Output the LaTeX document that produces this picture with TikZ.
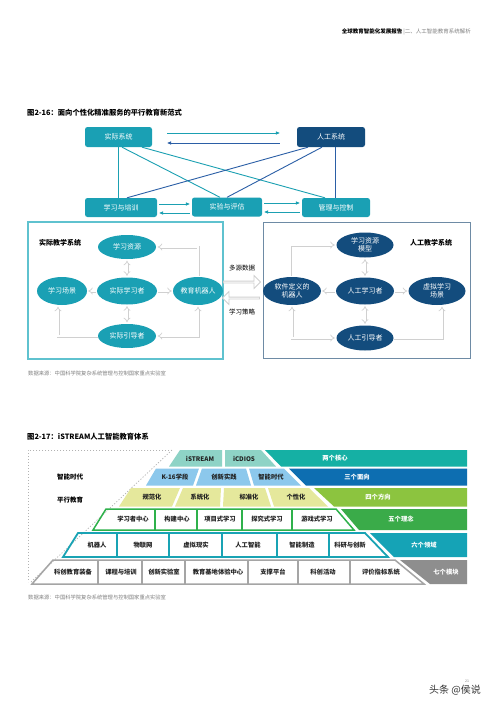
\documentclass[tikz,border=0pt]{standalone}
\usepackage{fontspec}
\setmainfont{Noto Sans CJK SC}
\usetikzlibrary{arrows.meta,shapes.arrows,shapes.geometric,calc}
\definecolor{tealbox}{HTML}{1AA0B4}
\definecolor{navybox}{HTML}{134C7D}
\definecolor{tline}{HTML}{1BA0B2}
\definecolor{bline}{HTML}{2B5FA6}
\definecolor{lframe}{HTML}{5FC2CF}
\definecolor{rframe}{HTML}{6E8BA5}
\definecolor{harrow}{HTML}{D0D0D0}
\definecolor{rowA}{HTML}{8ED3C6}
\definecolor{bandA}{HTML}{15B0A4}
\definecolor{rowB}{HTML}{8CC8EC}
\definecolor{bandB}{HTML}{0D6EB1}
\definecolor{rowC}{HTML}{E5E89C}
\definecolor{bandC}{HTML}{8CC43F}
\definecolor{rowD}{HTML}{2EB14B}
\definecolor{bandD}{HTML}{3AAB49}
\definecolor{rowE}{HTML}{19A3B4}
\definecolor{bandE}{HTML}{15A3B6}
\definecolor{rowF}{HTML}{A5A5A5}
\definecolor{bandF}{HTML}{8E8E8E}
\definecolor{celltext}{HTML}{222222}
\begin{document}
\begin{tikzpicture}[x=1pt,y=-1pt,
  box/.style={rounded corners=2.5pt, text=white, font=\fontsize{7}{8}\selectfont, inner sep=0pt, align=center},
  tbx/.style={box, fill=tealbox},
  nbx/.style={box, fill=navybox},
  ell/.style={ellipse, text=white, inner sep=0pt, align=center, font=\fontsize{7}{8.5}\selectfont},
  lell/.style={ell, fill=tealbox},
  rell/.style={ell, fill=navybox},
  tl/.style={draw=tline, line width=0.9pt},
  bl/.style={draw=bline, line width=0.9pt},
  tip/.style={-{Triangle[length=4pt,width=3.2pt]}},
  hol/.style={draw=harrow, double=white, double distance=1.6pt, line width=0.7pt},
  bigarr/.style={single arrow, draw=harrow, fill=white, line width=0.8pt, minimum height=37pt, minimum width=13pt, single arrow head extend=2.5pt, inner sep=0pt},
  ct/.style={font=\bfseries\fontsize{6.3}{7}\selectfont, text=celltext, inner sep=0pt},
  bt/.style={font=\bfseries\fontsize{6.3}{7}\selectfont, text=white, inner sep=0pt},
  dotl/.style={draw=gray!60, line width=0.7pt, dash pattern=on 1.2pt off 1.8pt}
]
\useasboundingbox[fill=white] (0,0) rectangle (500,707);

% header
\node[anchor=east, font=\fontsize{5.5}{6}\selectfont, inner sep=0pt] (hdr) at (471,32) {{\bfseries 全球教育智能化发展报告}\,{\color{gray}|二、人工智能教育系统解析}};

% ===== Figure 2-16 =====
\node[anchor=west, font=\bfseries\fontsize{7.3}{8}\selectfont, inner sep=0pt] (t1) at (27,113) {图2-16：面向个性化精准服务的平行教育新范式};

\node[tbx, minimum width=67pt, minimum height=20pt] (rs) at (118.5,137) {实际系统};
\node[nbx, minimum width=68pt, minimum height=20pt] (as) at (331,137) {人工系统};
\node[tbx, minimum width=72pt, minimum height=19pt] (lt) at (121,207.5) {学习与培训};
\node[tbx, minimum width=70pt, minimum height=19pt] (ea) at (227,207) {实验与评估};
\node[tbx, minimum width=68pt, minimum height=19pt] (mc) at (336,207.5) {管理与控制};

\draw[tl] (rs.south) -- (rs.south |- lt.north);
\draw[tl] ([xshift=3.5pt]rs.south) -- ([xshift=-7pt]ea.north);
\draw[tl] ([xshift=23.5pt]rs.south) -- ([xshift=-11pt]mc.north);
\draw[bl] ([xshift=-23pt]as.south) -- ([xshift=6pt]lt.north);
\draw[bl] ([xshift=-9pt]as.south) -- (ea.north);
\draw[bl] ([xshift=4pt]as.south) -- ([xshift=4pt]as.south |- mc.north);

\draw[tl, tip] ([xshift=15pt,yshift=4pt]rs.east) -- ([xshift=-17pt,yshift=4pt]as.west);
\draw[bl, tip] ([xshift=-17pt,yshift=-6pt]as.west) -- ([xshift=15pt,yshift=-6pt]rs.east);
\draw[tl, tip] ([xshift=2pt,yshift=3.5pt]lt.east) -- ([xshift=-2pt,yshift=3.5pt]lt.east -| ea.west);
\draw[tl, tip] ([xshift=-2pt,yshift=-5.5pt]lt.east -| ea.west) -- ([xshift=2pt,yshift=-5.5pt]lt.east);
\draw[tl, tip] ([xshift=2pt,yshift=4pt]ea.east) -- ([xshift=-2pt,yshift=4pt]ea.east -| mc.west);
\draw[tl, tip] ([xshift=-2pt,yshift=-5pt]ea.east -| mc.west) -- ([xshift=2pt,yshift=-5pt]ea.east);

% frames
\draw[draw=lframe, line width=1.2pt] (28,222) rectangle (223,359);
\draw[draw=rframe, line width=1pt] (263,222) rectangle (470,358);
\node[font=\bfseries\fontsize{7}{8}\selectfont, inner sep=0pt] (lsys) at (60,243) {实际教学系统};
\node[font=\bfseries\fontsize{7}{8}\selectfont, inner sep=0pt] (rsys) at (431,243) {人工教学系统};

% left ellipses
\node[lell, minimum width=58pt, minimum height=24pt] (lres) at (127,247) {学习资源};
\node[lell, minimum width=50pt, minimum height=28pt] (lsce) at (62,291) {学习场景};
\node[lell, minimum width=60pt, minimum height=27pt] (llea) at (127,291) {实际学习者};
\node[lell, minimum width=50pt, minimum height=28pt] (lrob) at (198,291) {教育机器人};
\node[lell, minimum width=58pt, minimum height=24pt] (lgui) at (127,336) {实际引导者};

\draw[hol, {Implies}-{Implies}] ([yshift=-1.5pt]lres.south) -- ([yshift=1.5pt]llea.north);
\draw[hol, {Implies}-{Implies}] ([yshift=-1.5pt]llea.south) -- ([yshift=1.5pt]lgui.north);
\draw[hol, -{Implies}] ([xshift=-1pt]llea.west) -- ([xshift=1pt]lsce.east);
\draw[hol, -{Implies}] ([xshift=1pt]llea.east) -- ([xshift=-1pt]lrob.west);
\draw[hol, -{Implies}] ([yshift=1pt]lrob.north) |- ([xshift=1.5pt]lres.east);
\draw[hol, -{Implies}] (lgui.west) -| ([xshift=-4pt,yshift=-1.5pt]lsce.south);
\draw[hol, {Implies}-{Implies}] ([yshift=-1.5pt]lrob.south) |- ([xshift=1.5pt]lgui.east);

% middle arrows
\node[font=\fontsize{6.5}{7}\selectfont, inner sep=0pt] (mdat) at (242,268) {多源数据};
\node[bigarr] (arrR) at (241.5,282) {};
\node[bigarr, shape border rotate=180] (arrL) at (241.5,298) {};
\node[font=\fontsize{6.5}{7}\selectfont, inner sep=0pt] (mstr) at (242,312) {学习策略};

% right ellipses
\node[rell, minimum width=57pt, minimum height=25pt] (rres) at (365,245) {学习资源\\模型};
\node[rell, minimum width=58pt, minimum height=28pt] (rrob) at (292,291) {软件定义的\\机器人};
\node[rell, minimum width=58pt, minimum height=27pt] (rlea) at (365,291) {人工学习者};
\node[rell, minimum width=57pt, minimum height=28pt] (rsce) at (437,291) {虚拟学习\\场景};
\node[rell, minimum width=57pt, minimum height=25pt] (rgui) at (365,338) {人工引导者};

\draw[hol, {Implies}-{Implies}] ([yshift=-1.5pt]rres.south) -- ([yshift=1.5pt]rlea.north);
\draw[hol, {Implies}-{Implies}] ([yshift=-1.5pt]rlea.south) -- ([yshift=1.5pt]rgui.north);
\draw[hol, -{Implies}] ([xshift=-1pt]rlea.west) -- ([xshift=1pt]rrob.east);
\draw[hol, -{Implies}] ([xshift=1pt]rlea.east) -- ([xshift=-1pt]rsce.west);
\draw[hol, -{Implies}] ([xshift=-2pt,yshift=1pt]rrob.north) |- ([xshift=-1.5pt]rres.west);
\draw[hol, {Implies}-{Implies}] ([yshift=-1.5pt]rrob.south) |- ([xshift=-1.5pt]rgui.west);
\draw[hol, -{Implies}] (rgui.east) -| ([xshift=5pt,yshift=-1.5pt]rsce.south);

\node[anchor=west, font=\fontsize{5.3}{6}\selectfont, text=gray, inner sep=0pt] (src1) at (28,373) {数据来源：中国科学院复杂系统管理与控制国家重点实验室};

% ===== Figure 2-17 =====
\node[anchor=west, font=\bfseries\fontsize{7.3}{8}\selectfont, inner sep=0pt] (t2) at (27,437) {图2-17：iSTREAM人工智能教育体系};

\draw[dotl] (172,450) -- (28,450) -- (28,582);
\draw[dotl] (172,450) -- (31,582);
\node[font=\bfseries\fontsize{6.5}{7}\selectfont, inner sep=0pt] (lab1) at (70,477) {智能时代};
\node[font=\bfseries\fontsize{6.5}{7}\selectfont, inner sep=0pt] (lab2) at (70,500) {平行教育};

% row 1
\fill[rowA] (180,450) -- (222,450) -- (222,466.5) -- (169,466.5) -- cycle;
\fill[rowA] (225,450) -- (261,450) -- (276,466.5) -- (225,466.5) -- cycle;
\fill[bandA] (265,450) -- (467,450) -- (467,466.5) -- (281,466.5) -- cycle;
\node[ct] (c11) at (200,458.5) {iSTREAM};
\node[ct] (c12) at (244,458.5) {iCDIOS};
\node[bt] (b1) at (335,458.5) {两个核心};

% row 2
\fill[rowB] (156,468.5) -- (199,468.5) -- (193,485.5) -- (146,485.5) -- cycle;
\fill[rowB] (202,468.5) -- (246,468.5) -- (251,485.5) -- (196,485.5) -- cycle;
\fill[rowB] (249,468.5) -- (284,468.5) -- (301,485.5) -- (254,485.5) -- cycle;
\fill[bandB] (289,468.5) -- (467,468.5) -- (467,485.5) -- (306,485.5) -- cycle;
\node[ct] (c21) at (175,477) {K-16学段};
\node[ct] (c22) at (224,477) {创新实践};
\node[ct] (c23) at (271,477) {智能时代};
\node[bt] (b2) at (357,477) {三个面向};

% row 3
\fill[rowC] (131,488) -- (180,488) -- (172,506.5) -- (119,506.5) -- cycle;
\fill[rowC] (183,488) -- (221,488) -- (220,506.5) -- (175,506.5) -- cycle;
\fill[rowC] (224,488) -- (265,488) -- (271,506.5) -- (223,506.5) -- cycle;
\fill[rowC] (268,488) -- (309,488) -- (328,506.5) -- (274,506.5) -- cycle;
\fill[bandC] (314,488) -- (467,488) -- (467,506.5) -- (334,506.5) -- cycle;
\node[ct] (c31) at (152,497) {规范化};
\node[ct] (c32) at (200,497) {系统化};
\node[ct] (c33) at (249,497) {标准化};
\node[ct] (c34) at (296,497) {个性化};
\node[bt] (b3) at (378,497) {四个方向};

% row 4
\fill[bandD] (341,509) -- (467,509) -- (467,530) -- (359,530) -- cycle;
\draw[draw=rowD, line width=1.5pt, line join=miter] (106,509) -- (336,509) -- (354,530) -- (93,530) -- cycle;
\foreach \xx in {155,197,242,292} \draw[draw=rowD, line width=1.5pt] (\xx,509) -- (\xx,530);
\node[ct] (c41) at (133,519.5) {学习者中心};
\node[ct] (c42) at (177,519.5) {构建中心};
\node[ct] (c43) at (220,519.5) {项目式学习};
\node[ct] (c44) at (267,519.5) {探究式学习};
\node[ct] (c45) at (317,519.5) {游戏式学习};
\node[bt] (b4) at (401,519.5) {五个理念};

% row 5
\fill[bandE] (370,533) -- (467,533) -- (467,557) -- (394,557) -- cycle;
\draw[draw=rowE, line width=1.8pt, line join=miter] (78,533) -- (365,533) -- (388,557) -- (63,557) -- cycle;
\foreach \xx in {117,169,222,277,329} \draw[draw=rowE, line width=1.8pt] (\xx,533) -- (\xx,557);
\node[ct] (c51) at (97,545) {机器人};
\node[ct] (c52) at (143,545) {物联网};
\node[ct] (c53) at (196,545) {虚拟现实};
\node[ct] (c54) at (248,545) {人工智能};
\node[ct] (c55) at (302,545) {智能制造};
\node[ct] (c56) at (350,545) {科研与创新};
\node[bt] (b5) at (424,545) {六个领域};

% row 6
\fill[bandF] (400,560) -- (467,560) -- (467,584) -- (430,584) -- cycle;
\draw[draw=rowF, line width=1.5pt, line join=miter] (53,560) -- (395,560) -- (424,584) -- (32,584) -- cycle;
\foreach \xx in {98,142,185,248,298,350} \draw[draw=rowF, line width=1.5pt] (\xx,560) -- (\xx,584);
\node[ct] (c61) at (73,572) {科创教育装备};
\node[ct] (c62) at (121,572) {课程与培训};
\node[ct] (c63) at (164,572) {创新实验室};
\node[ct] (c64) at (218,572) {教育基地体验中心};
\node[ct] (c65) at (273,572) {支撑平台};
\node[ct] (c66) at (323,572) {科创活动};
\node[ct] (c67) at (381,572) {评价指标系统};
\node[bt] (b6) at (446,572) {七个模块};

\node[anchor=west, font=\fontsize{5.3}{6}\selectfont, text=gray, inner sep=0pt] (src2) at (28,597) {数据来源：中国科学院复杂系统管理与控制国家重点实验室};

% footer / watermark
\node[font=\fontsize{3.5}{4}\selectfont, text=gray, inner sep=0pt] (pg) at (467,681) {21};
\node[font=\fontsize{10}{11}\selectfont, text=black!80, inner sep=0pt] (wm) at (455,690) {头条 @侯说};
\end{tikzpicture}
\end{document}
